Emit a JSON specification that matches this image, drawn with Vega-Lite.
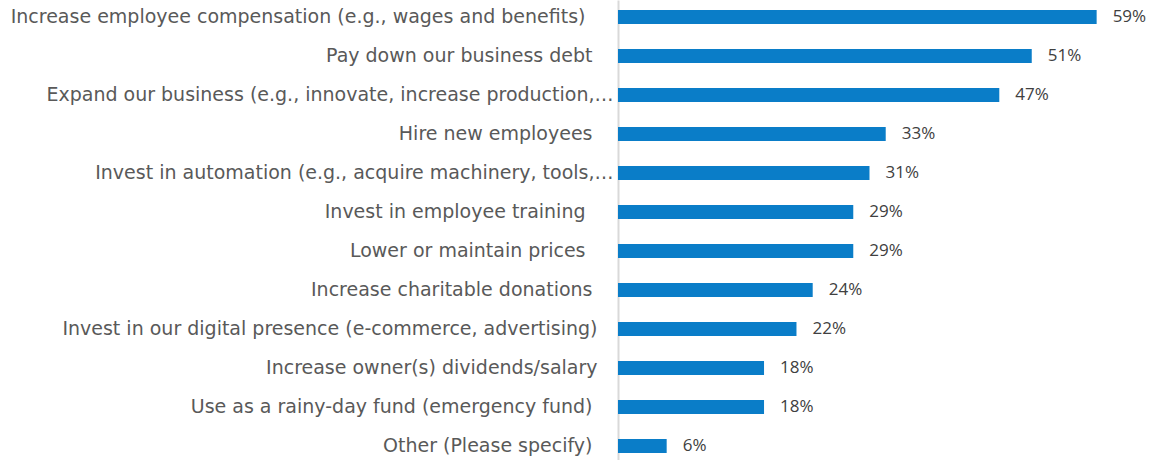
{
  "$schema": "https://vega.github.io/schema/vega-lite/v6.json",
  "autosize": "none",
  "padding": {"left": 618, "top": 0, "right": 0, "bottom": 0},
  "width": 533,
  "height": 463,
  "background": "white",
  "config": {"view": {"stroke": null}},
  "data": {
    "values": [
      {"item": "Increase employee compensation (e.g., wages and benefits)", "pct": 0.59},
      {"item": "Pay down our business debt", "pct": 0.51},
      {"item": "Expand our business (e.g., innovate, increase production,…", "pct": 0.47},
      {"item": "Hire new employees", "pct": 0.33},
      {"item": "Invest in automation (e.g., acquire machinery, tools,…", "pct": 0.31},
      {"item": "Invest in employee training", "pct": 0.29},
      {"item": "Lower or maintain prices", "pct": 0.29},
      {"item": "Increase charitable donations", "pct": 0.24},
      {"item": "Invest in our digital presence (e-commerce, advertising)", "pct": 0.22},
      {"item": "Increase owner(s) dividends/salary", "pct": 0.18},
      {"item": "Use as a rainy-day fund (emergency fund)", "pct": 0.18},
      {"item": "Other (Please specify)", "pct": 0.06}
    ]
  },
  "encoding": {
    "y": {
      "field": "item",
      "type": "nominal",
      "sort": null,
      "scale": {"paddingInner": 0.64, "paddingOuter": 0.256},
      "axis": {
        "title": null,
        "ticks": false,
        "tickSize": 0,
        "domainColor": "#d9d9d9",
        "domainWidth": 2,
        "labelFont": "DejaVu Sans",
        "labelFontSize": 19,
        "labelColor": "#595959",
        "labelLimit": 1000,
        "labelPadding": {
          "condition": [
            {"test": "indexof(['Increase employee compensation (e.g., wages and benefits)', 'Invest in employee training', 'Lower or maintain prices'], datum.value) >= 0", "value": 33},
            {"test": "indexof(['Pay down our business debt', 'Hire new employees', 'Increase charitable donations', 'Use as a rainy-day fund (emergency fund)', 'Other (Please specify)'], datum.value) >= 0", "value": 26},
            {"test": "indexof(['Invest in our digital presence (e-commerce, advertising)', 'Increase owner(s) dividends/salary'], datum.value) >= 0", "value": 21}
          ],
          "value": 5
        }
      }
    },
    "x": {
      "field": "pct",
      "type": "quantitative",
      "scale": {"domain": [0, 0.657], "nice": false},
      "axis": null
    }
  },
  "layer": [
    {"mark": {"type": "bar", "color": "#0a7dc8", "cornerRadius": 0}},
    {
      "mark": {"type": "text", "align": "left", "baseline": "middle", "dx": 16, "font": "Open Sans", "fontSize": 17, "color": "#404040"},
      "encoding": {"text": {"field": "pct", "type": "quantitative", "format": ".0%"}}
    }
  ]
}
